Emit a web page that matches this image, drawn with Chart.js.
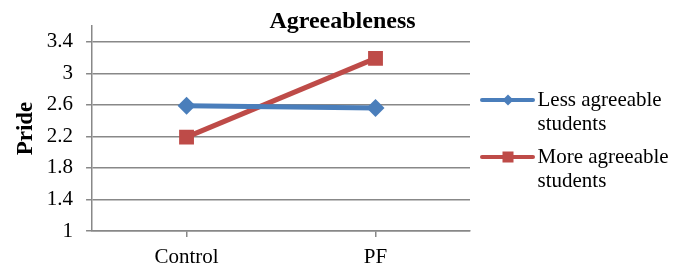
<!DOCTYPE html>
<html>
<head>
<meta charset="utf-8">
<script src="https://cdn.jsdelivr.net/npm/chart.js@4"></script>
<style>
  body { margin: 0; background: #fff; }
  #wrap { width: 675px; height: 269px; }
</style>
</head>
<body>
<div id="wrap"><canvas id="myChart"></canvas></div>
<script>
// data
const categories = ['Control', 'PF'];
const seriesNames = [['Less agreeable', 'students'], ['More agreeable', 'students']];
const lessAgreeable = [2.59, 2.56];
const moreAgreeable = [2.19, 3.19];
const yTicks = [1, 1.4, 1.8, 2.2, 2.6, 3, 3.4];

const blue = '#4A7EBB';
const red = '#BE4B48';
const gridGrey = '#888888';
const serif = "'Liberation Serif', 'Times New Roman', serif";

// legend sample: line with marker, like the office chart
const legendSample = function (color, marker) {
    const c = document.createElement('canvas');
    c.width = 64;
    c.height = 16;
    const ctx = c.getContext('2d');
    ctx.strokeStyle = color;
    ctx.fillStyle = color;
    ctx.lineWidth = 4;
    ctx.lineCap = 'round';
    ctx.beginPath();
    ctx.moveTo(11, 8);
    ctx.lineTo(62, 8);
    ctx.stroke();
    const cx = 37;
    if (marker === 'diamond') {
        ctx.beginPath();
        ctx.moveTo(cx, 2.5);
        ctx.lineTo(cx + 5.5, 8);
        ctx.lineTo(cx, 13.5);
        ctx.lineTo(cx - 5.5, 8);
        ctx.closePath();
        ctx.fill();
    } else {
        ctx.fillRect(cx - 5.5, 2.5, 11, 11);
    }
    return c;
};
const samples = [legendSample(blue, 'diamond'), legendSample(red, 'square')];

const config = {
    type: 'line',
    data: {
        labels: categories,
        datasets: [{
            label: seriesNames[0],
            data: lessAgreeable,
            borderColor: blue,
            backgroundColor: blue,
            borderWidth: 5,
            pointStyle: 'rectRot',
            pointRadius: 9,
            pointHoverRadius: 9,
            pointBorderWidth: 0,
            tension: 0
        }, {
            label: seriesNames[1],
            data: moreAgreeable,
            borderColor: red,
            backgroundColor: red,
            borderWidth: 5,
            pointStyle: 'rect',
            pointRadius: 10.5,
            pointHoverRadius: 10.5,
            pointBorderWidth: 0,
            tension: 0
        }]
    },
    options: {
        responsive: true,
        maintainAspectRatio: false,
        animation: false,
        layout: { padding: { top: 7, left: 10, right: 0, bottom: -8 } },
        plugins: {
            title: {
                display: true,
                text: 'Agreeableness',
                color: '#000',
                font: { family: serif, size: 24, weight: 'bold', lineHeight: 1.2 },
                padding: { top: 0.6, bottom: -10.4 }
            },
            legend: {
                position: 'right',
                maxWidth: 205,
                labels: {
                    color: '#000',
                    font: { family: serif, size: 21, lineHeight: 24 / 21 },
                    usePointStyle: true,
                    pointStyleWidth: 48,
                    padding: 9,
                    generateLabels: function (chart) {
                        const items = Chart.defaults.plugins.legend.labels.generateLabels(chart);
                        items.forEach((it, i) => { it.pointStyle = samples[i]; });
                        return items;
                    }
                }
            },
            tooltip: { enabled: false }
        },
        scales: {
            x: {
                offset: true,
                grid: {
                    drawOnChartArea: false,
                    drawTicks: true,
                    tickLength: 6,
                    color: gridGrey,
                    lineWidth: 1.5
                },
                border: { color: gridGrey, width: 1.5 },
                ticks: {
                    color: '#000',
                    padding: 8,
                    font: { family: serif, size: 21, lineHeight: 24 / 21 }
                }
            },
            y: {
                min: 1,
                max: 3.6,
                afterBuildTicks: function (scale) {
                    scale.ticks = yTicks.map(v => ({ value: v }));
                },
                grid: {
                    color: gridGrey,
                    lineWidth: 1.5,
                    tickLength: 6
                },
                border: { color: gridGrey, width: 1.5 },
                ticks: {
                    color: '#000',
                    padding: 13,
                    font: { family: serif, size: 21 },
                    callback: v => String(v)
                },
                title: {
                    display: true,
                    text: 'Pride',
                    color: '#000',
                    font: { family: serif, size: 23, weight: 'bold', lineHeight: 1.2 },
                    padding: { top: 2.2, bottom: -6 }
                }
            }
        }
    }
};

const myChart = new Chart(document.getElementById('myChart'), config);
</script>
</body>
</html>
